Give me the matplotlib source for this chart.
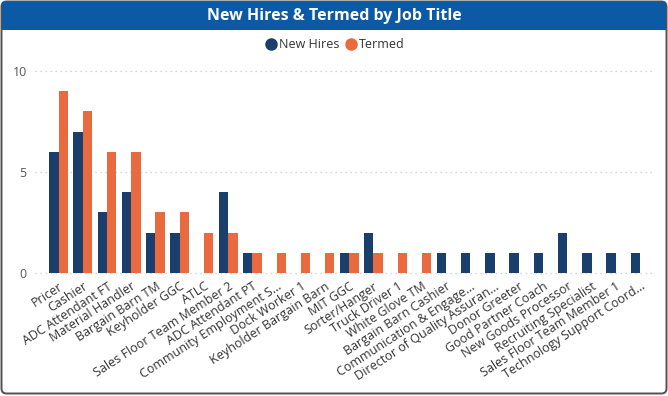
import numpy as np
import matplotlib
matplotlib.use("Agg")
import matplotlib.pyplot as plt
from matplotlib.patches import FancyBboxPatch, Rectangle
from matplotlib.lines import Line2D

job_titles = [
    "Pricer", "Cashier", "ADC Attendant FT", "Material Handler", "Bargain Barn TM",
    "Keyholder GGC", "ATLC", "Sales Floor Team Member 2", "ADC Attendant PT",
    "Community Employment S...", "Dock Worker 1", "Keyholder Bargain Barn", "MIT GGC",
    "Sorter/Hanger", "Truck Driver 1", "White Glove TM", "Bargain Barn Cashier",
    "Communication & Engage...", "Director of Quality Assuran...", "Donor Greeter",
    "Good Partner Coach", "New Goods Processor", "Recruiting Specialist",
    "Sales Floor Team Member 1", "Technology Support Coord...",
]
new_hires = [6, 7, 3, 4, 2, 2, 0, 4, 1, 0, 0, 0, 1, 2, 0, 0, 1, 1, 1, 1, 1, 2, 1, 1, 1]
termed = [9, 8, 6, 6, 3, 3, 2, 2, 1, 1, 1, 1, 1, 1, 1, 1, 0, 0, 0, 0, 0, 0, 0, 0, 0]
y_ticks = [0, 5, 10]

NAVY = "#1a3f6c"
ORANGE = "#ea6a3f"
W, H = 668, 396

plt.rcParams["font.family"] = ["Open Sans", "DejaVu Sans"]
fig = plt.figure(figsize=(W / 100, H / 100), dpi=100)
fig.patch.set_facecolor("white")

# === Karte mit Titelleiste (Pixelkoordinaten) ===
bg = fig.add_axes([0, 0, 1, 1], zorder=0)
bg.set_xlim(0, W)
bg.set_ylim(H, 0)
bg.axis("off")
card = FancyBboxPatch((1.5, 1.5), W - 3, H - 4, boxstyle="round,pad=0,rounding_size=5",
                      facecolor="white", edgecolor="#505050", linewidth=1.4)
bg.add_patch(card)
bg.add_patch(Rectangle((2.2, 2.2), W - 4.4, 28, facecolor="#0c5aa6", edgecolor="none"))
bg.text(W / 2, 16, "New Hires & Termed by Job Title", ha="center", va="center",
        fontsize=11.5, fontweight="bold", color="white")

# Legende
handles = [Line2D([], [], marker="o", linestyle="none", markersize=8, color=NAVY),
           Line2D([], [], marker="o", linestyle="none", markersize=8, color=ORANGE)]
fig.legend(handles, ["New Hires", "Termed"], loc="center", bbox_to_anchor=(0.5, 1 - 45 / H),
           ncol=2, frameon=False, fontsize=9, handletextpad=0.05, columnspacing=0.3,
           handlelength=1.2, labelcolor="#333333")

# === Balkendiagramm ===
left, right, top, bottom = 35, 655, 71, 273
ax = fig.add_axes([left / W, 1 - bottom / H, (right - left) / W, (bottom - top) / H], zorder=1)
ax.patch.set_alpha(0)
x = np.arange(len(job_titles))
bw = 0.39
ax.bar(x - bw / 2, new_hires, width=bw, color=NAVY, zorder=3)
ax.bar(x + bw / 2, termed, width=bw, color=ORANGE, zorder=3)

ax.set_xlim(-0.97, len(job_titles) - 1 + 0.62)
ax.set_ylim(0, 10)
ax.set_yticks(y_ticks)
ax.set_yticklabels([str(v) for v in y_ticks], fontsize=9, color="#555555")
for v in y_ticks:
    ax.axhline(v, color="#c8c8c8", linewidth=0.9, linestyle=(0, (1, 3)), zorder=1, clip_on=False)
ax.set_xticks(x)
ax.set_xticklabels(job_titles, rotation=33, ha="right", rotation_mode="anchor",
                   fontsize=9, color="#333333")
ax.tick_params(axis="both", length=0)
ax.tick_params(axis="x", pad=5)
ax.tick_params(axis="y", pad=6)
for s in ax.spines.values():
    s.set_visible(False)

fig.savefig("out.png", dpi=100, facecolor="white")
